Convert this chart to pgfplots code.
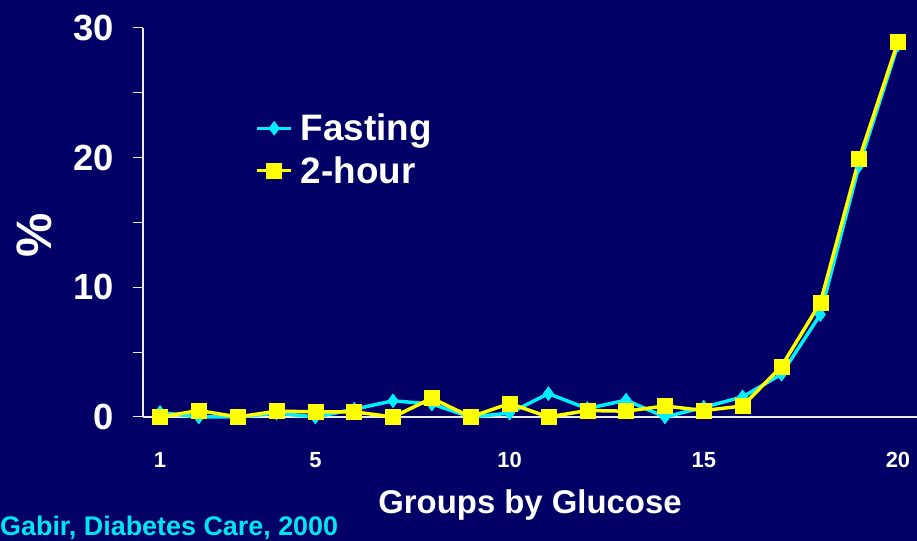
\documentclass[border=0pt]{standalone}
\usepackage{pgfplots}
\pgfplotsset{compat=1.18}
\usepackage{fontspec}
\setmainfont{Liberation Sans}
\definecolor{bg}{RGB}{0,0,102}
\definecolor{cy}{RGB}{0,238,255}
\definecolor{yl}{RGB}{255,255,0}
\definecolor{src}{RGB}{0,230,240}
\begin{document}
\begin{tikzpicture}
\fill[bg] (0,0) rectangle (917bp,541bp);
\begin{axis}[
  at={(143bp,124bp)}, anchor=south west,
  scale only axis, width=774bp, height=389bp,
  xmin=0.562, xmax=20.49, ymin=0, ymax=30,
  clip=false,
  axis lines=left,
  axis line style={-, draw=white!85!gray, line width=1.2bp},
  xtick={1,5,10,15,20},
  ytick={0,10,20,30},
  minor ytick={5,15,25},
  x tick style={draw=none},
  y tick style={draw=white!85!gray, line width=1bp},
  tick align=outside,
  major tick length=10bp, minor tick length=10bp,
  /pgf/number format/assume math mode=true,
  x tick label style={font=\fontsize{22}{22}\selectfont\bfseries, text=white, yshift=-22bp},
  y tick label style={font=\fontsize{36.5}{36.5}\selectfont\bfseries, text=white, xshift=-16bp},
  xlabel={Groups by Glucose},
  xlabel style={font=\fontsize{33}{33}\selectfont\bfseries, text=white, at={(axis description cs:0.5,-0.225)}, anchor=center},
  ylabel={\%},
  ylabel style={font=\fontsize{50}{50}\selectfont\bfseries, text=white, at={(axis description cs:-0.14,0.468)}, anchor=center, rotate=0},
  legend style={at={(axis description cs:0.145,0.784)}, anchor=north west, draw=none, fill=none, text=white,
    font=\fontsize{37}{37}\selectfont\bfseries, row sep=10bp, inner sep=0pt,
    /tikz/every odd column/.append style={column sep=6bp}},
  legend cell align=left,
  legend image code/.code={\draw[mark repeat=2,mark phase=2] plot coordinates {(0cm,0cm) (0.6cm,0cm) (1.2cm,0cm)};},
]
\addplot[color=cy, line width=3.5bp, mark=diamond*, mark size=7bp, mark options={fill=cy, draw=cy, line width=0.5bp}] coordinates {
(1,0.35) (2,0) (3,0) (4,0.3) (5,0) (6,0.6) (7,1.25) (8,1.0) (9,0) (10,0.3)
(11,1.8) (12,0.65) (13,1.3) (14,0) (15,0.75) (16,1.55) (17,3.3) (18,7.9) (19,19.4) (20,28.7)
};
\addlegendentry{Fasting}
\addplot[color=yl, line width=3.5bp, mark=square*, mark size=7.5bp, mark options={fill=yl, draw=yl, line width=0.5bp}] coordinates {
(1,0) (2,0.5) (3,0) (4,0.45) (5,0.4) (6,0.4) (7,0) (8,1.45) (9,0) (10,1.05)
(11,0) (12,0.5) (13,0.45) (14,0.85) (15,0.5) (16,0.85) (17,3.9) (18,8.8) (19,19.9) (20,28.95)
};
\addlegendentry{2-hour}
\end{axis}
\node[anchor=west, text=src, font=\fontsize{27}{27}\selectfont\bfseries, inner sep=0pt] at (0bp,13bp) {Gabir, Diabetes Care, 2000};
\pgfresetboundingbox
\path[use as bounding box] (0,0) rectangle (917bp,541bp);
\end{tikzpicture}
\end{document}
